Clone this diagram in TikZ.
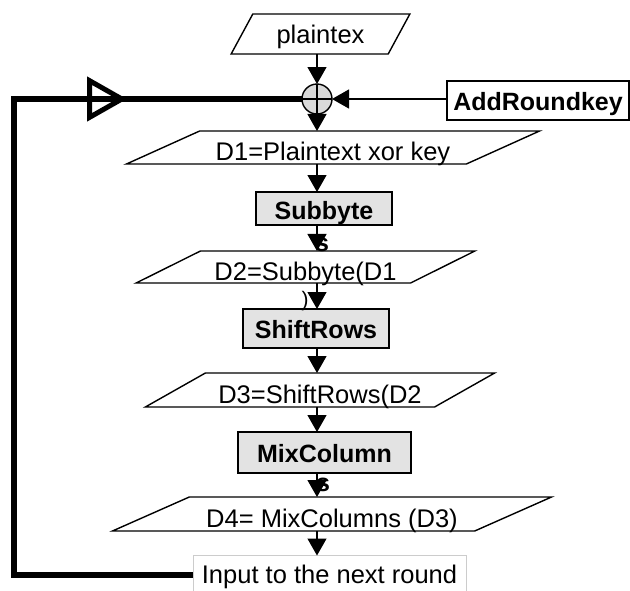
\documentclass[tikz,border=0pt]{standalone}
\usepackage{fontspec}
\setmainfont{Liberation Sans}
\usetikzlibrary{shapes.geometric}
\usetikzlibrary{arrows.meta}
\usetikzlibrary{decorations.markings}
\tikzset{x=1pt, y=-1pt,
every node/.style={ % Same text size everywhere
inner sep=0pt, outer sep=0pt,
font=\fontsize{25.5}{27}\selectfont},
data/.style n args={3}{ % Parallelogram: left angle, right angle, width
trapezium, draw, line width=1.4pt,
trapezium stretches=true,
trapezium left angle=#1, trapezium right angle=#2,
minimum width=#3, minimum height=33pt,
text height=26pt, text depth=0pt},
opbox/.style={ % Grey round operation
draw, line width=1.4pt, fill=gray!22,
font=\fontsize{25}{27}\selectfont\bfseries,
text height=19pt, text depth=0pt},
flow/.style={ % Thin connector with solid head
draw, line width=1.3pt,
-{Triangle[length=17pt, width=19pt]}},
feedback/.style={ % Thick line back to the xor
draw, line width=5.5pt,
decoration={markings,
mark=at position 768pt with {\arrow[line width=5pt]{Triangle[open, length=40pt, width=44pt]}}},
postaction=decorate}}

\begin{document}
\begin{tikzpicture}
	\useasboundingbox (0,0) rectangle (630,590);
	\node[data={52}{128}{179pt}, minimum height=40pt, text height=18pt] (plain) at (320.5,34) {plaintex};
	\node[draw, line width=1.4pt, minimum width=182pt, minimum height=39pt, font=\fontsize{25}{27}\selectfont\bfseries, text height=19pt, text depth=0pt] (key) at (538,100.5) {AddRoundkey};
	\node[data={22}{158}{414pt}] (d1) at (333,147.5) {D1=Plaintext xor key};
	\node[opbox, minimum width=136pt, minimum height=33pt, text height=22pt] (sub) at (324,208.5) {Subbyte};
	\node[data={25}{155}{339pt}, minimum height=32pt] (d2) at (305.5,267) {D2=Subbyte(D1};
	\node[opbox, minimum width=146pt, minimum height=39pt] (shift) at (316,328.5) {ShiftRows};
	\node[data={26}{154}{350pt}, minimum height=34pt] (d3) at (320,390) {D3=ShiftRows(D2};
	\node[opbox, minimum width=173pt, minimum height=41pt] (mix) at (324.5,452.5) {MixColumn};
	\node[data={21}{159}{440pt}, minimum height=34pt] (d4) at (332,514) {D4= MixColumns (D3)};
	\node[draw=gray!40, line width=1pt, minimum width=273pt, minimum height=39pt, text height=17pt, text depth=0pt] (inp) at (329.5,575) {Input to the next round};
	\coordinate (corner) at (14,99);
	\draw[feedback] (inp.west) -| (corner) -- (317,99);
	\node[circle, draw, line width=1.4pt, fill=gray!30, minimum size=30pt] (xor) at (317,99) {};
	\draw[line width=1.2pt] (xor.north) -- (xor.south) (xor.west) -- (xor.east);
	\draw[flow] (xor |- plain.south) -- (xor.north);
	\draw[flow] (xor.east -| key.west) -- (xor.east);
	\draw[flow] (xor.south) -- (xor |- d1.north);
	\draw[flow] (xor |- d1.south) -- (xor |- sub.north);
	\draw[flow] (xor |- sub.south) -- (xor |- d2.north);
	\draw[flow] (xor |- d2.south) -- (xor |- shift.north);
	\draw[flow] (xor |- shift.south) -- (xor |- d3.north);
	\draw[flow] (xor |- d3.south) -- (xor |- mix.north);
	\draw[flow] (xor |- mix.south) -- (xor |- d4.north);
	\draw[flow] (xor |- d4.south) -- (xor |- inp.north);
	% spill-over letters under the boxes
	\node[font=\fontsize{25}{27}\selectfont\bfseries] (s1) at (322,245) {s};
	\node[font=\fontsize{21}{23}\selectfont] (p1) at (305,301) {)};
	\node[font=\fontsize{25}{27}\selectfont\bfseries] (s2) at (323,485) {s};
\end{tikzpicture}
\end{document}
